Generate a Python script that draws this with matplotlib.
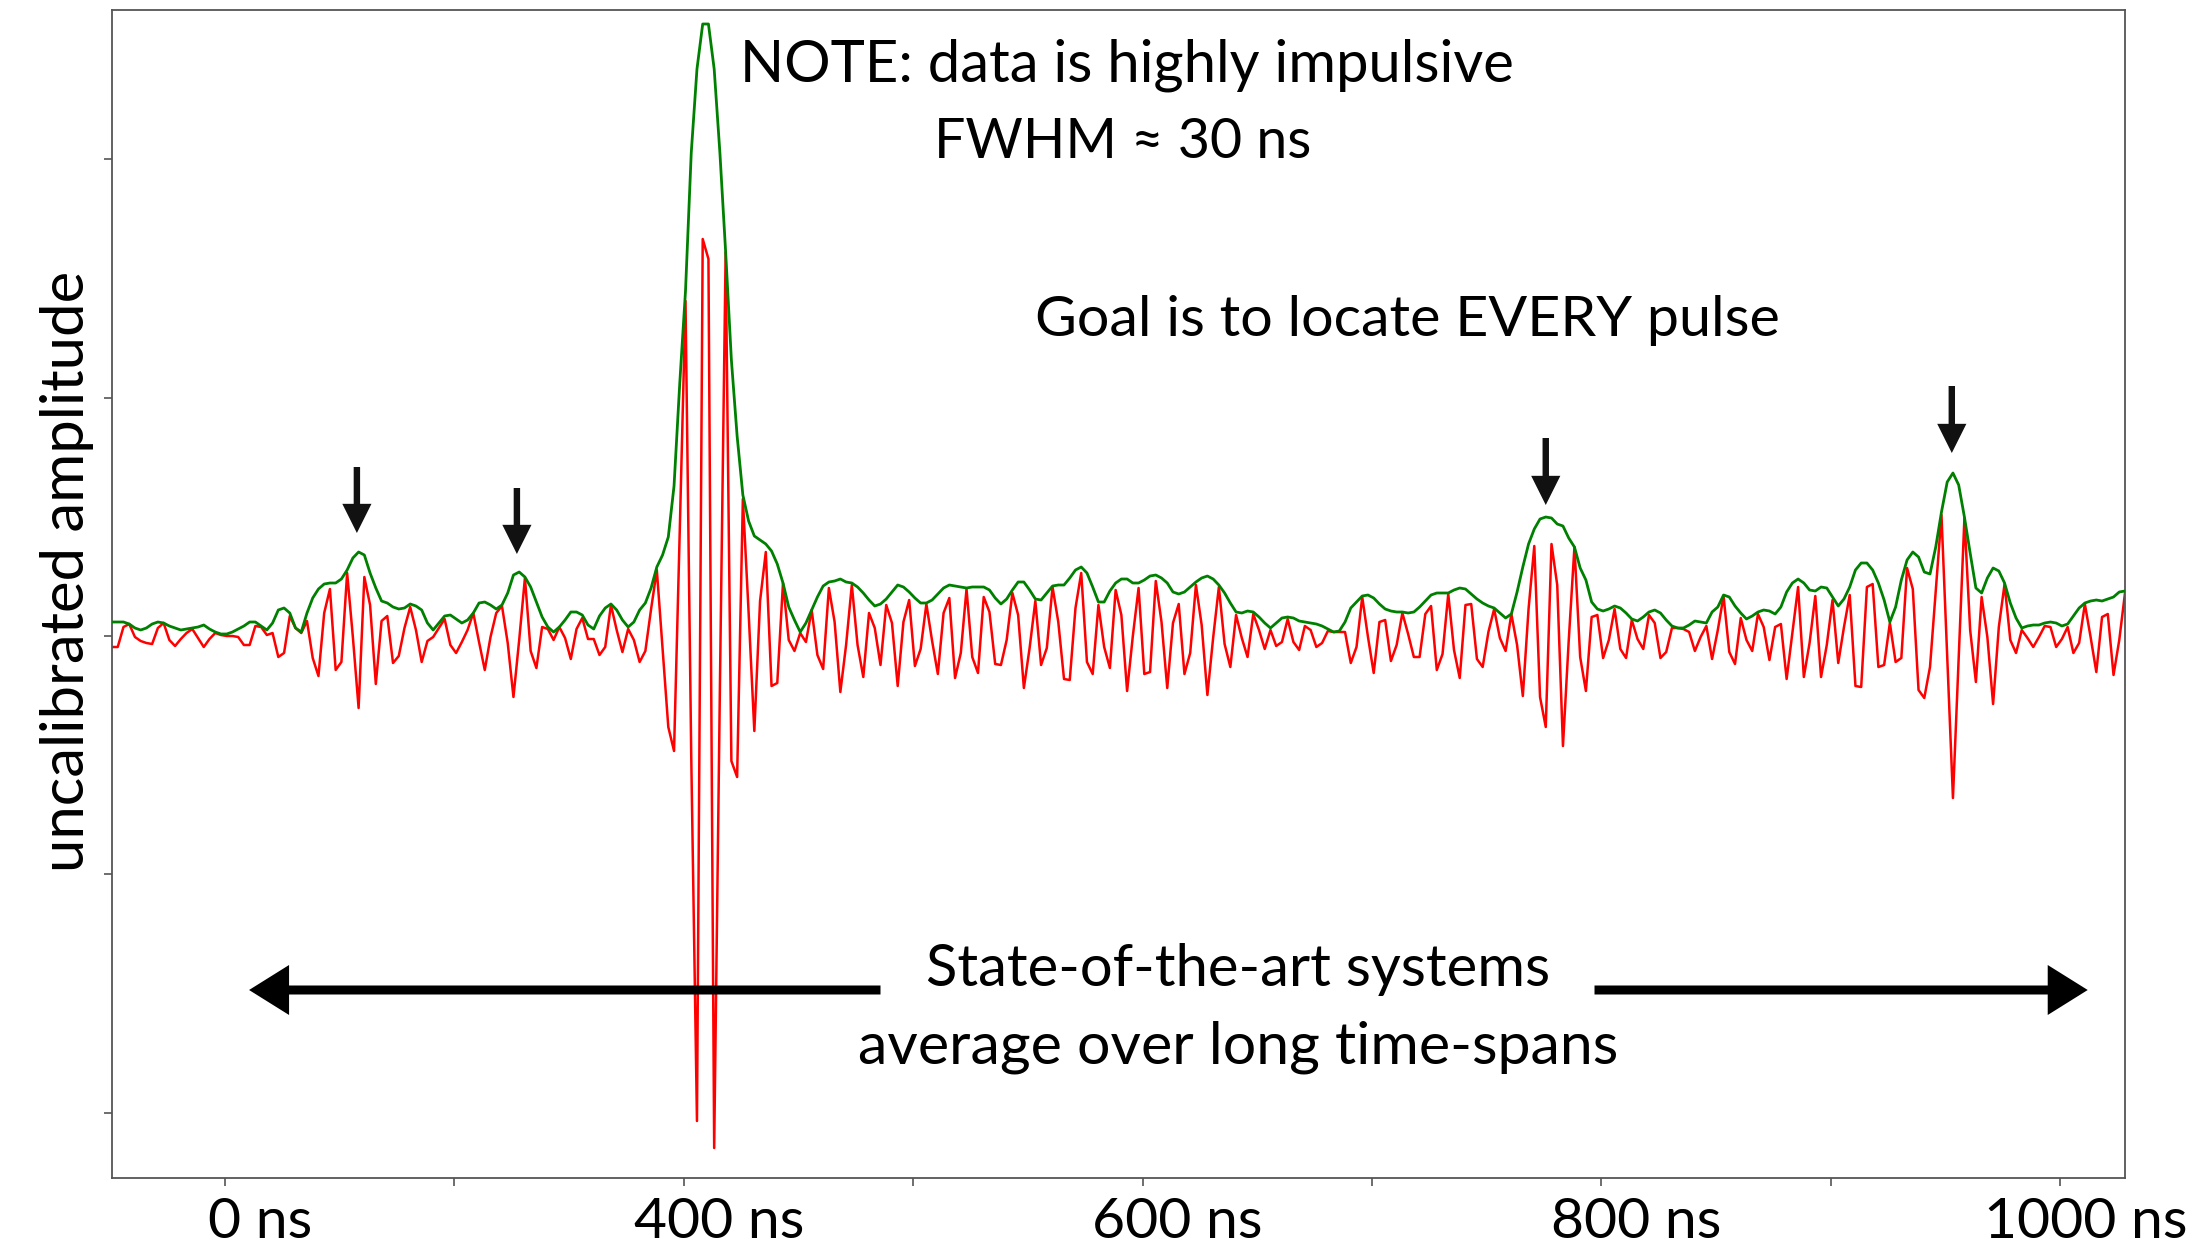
import numpy as np
import matplotlib.pyplot as plt
import matplotlib.transforms as mtransforms

# red trace (raw samples) and green trace (envelope), arbitrary counts
red = [-11, -11, 9, 12, -1, -5, -7, -8, 8, 13,
       -4, -10, -3, 3, 7, -2, -11, -3, 3, 1,
       0, 0, -1, -9, -9, 10, 9, 1, 3, -21,
       -17, 20, 8, 3, 15, -22, -40, 23, 47, -34,
       -26, 63, -1, -72, 59, 31, -48, 15, 20, -27,
       -20, 8, 29, 6, -26, -5, -1, 8, 17, -9,
       -17, -6, 6, 23, -6, -34, -1, 23, 30, -7,
       -61, -4, 58, -15, -32, 9, 7, -4, 9, -2,
       -23, 7, 18, -3, -3, -19, -11, 31, 6, -16,
       7, -4, -26, -15, 27, 66, -12, -91, -115, 106,
       335, -120, -485, 397, 377, -512, -50, 384, -125, -141,
       137, 24, -95, 35, 84, -50, -47, 53, -4, -15,
       3, -6, 26, -19, -33, 48, 14, -56, -9, 51,
       -9, -41, 23, 8, -29, 31, 13, -50, 14, 36,
       -30, -13, 32, -5, -38, 23, 38, -42, -17, 47,
       -21, -37, 39, 24, -28, -29, -4, 43, 21, -52,
       -12, 35, -29, -12, 49, 14, -43, -44, 28, 63,
       -26, -38, 31, -11, -32, 46, 21, -55, 0, 48,
       -38, -36, 55, 14, -52, 13, 32, -38, -17, 51,
       11, -59, -2, 49, -8, -31, 21, -2, -21, 22,
       6, -13, 6, -10, -6, 17, -6, -14, 10, 6,
       -11, -7, 5, 4, 4, 4, -27, -11, 39, -1,
       -37, 14, 16, -25, -9, 23, 2, -21, -21, 22,
       30, -34, -18, 42, -14, -42, 31, 32, -23, -31,
       4, 27, -2, -15, 22, -9, -60, 27, 90, -61,
       -91, 92, 51, -110, -5, 89, -21, -55, 19, 21,
       -22, -4, 27, -13, -22, 16, -3, -13, 21, 13,
       -22, -16, 8, 8, 7, 4, -15, -1, 10, -23,
       6, 40, -16, -28, 18, -4, -15, 22, 9, -24,
       9, 12, -43, 3, 49, -41, -7, 40, -41, -9,
       36, -27, 9, 41, -50, -51, 49, 52, -31, -29,
       13, -26, -22, 68, 47, -54, -62, -31, 45, 121,
       -21, -162, -22, 118, 6, -46, 39, -1, -68, 9,
       52, -4, -17, 6, -2, -11, -1, 10, 9, -11,
       -3, 9, -17, -7, 32, -1, -36, 19, 22, -39,
       -4, 43]

green = [14, 14, 14, 12, 8, 6, 8, 12, 14, 13,
         10, 8, 6, 7, 8, 9, 11, 7, 4, 2,
         2, 4, 7, 10, 14, 14, 10, 6, 13, 26,
         28, 23, 8, 4, 23, 38, 47, 52, 53, 53,
         57, 66, 78, 84, 81, 63, 48, 35, 33, 29,
         27, 28, 32, 30, 26, 13, 6, 13, 20, 21,
         17, 13, 16, 23, 33, 34, 31, 27, 31, 43,
         61, 64, 59, 49, 34, 19, 9, 4, 9, 16,
         24, 24, 21, 11, 7, 20, 28, 32, 26, 16,
         9, 14, 26, 33, 48, 69, 81, 99, 150, 253,
         345, 483, 567, 612, 612, 567, 483, 384, 276, 200,
         141, 115, 100, 96, 92, 85, 72, 53, 29, 16,
         4, 13, 26, 39, 50, 54, 55, 57, 54, 53,
         49, 43, 36, 30, 32, 37, 44, 51, 49, 44,
         38, 33, 33, 36, 42, 48, 51, 50, 49, 48,
         49, 49, 49, 46, 38, 32, 37, 46, 54, 54,
         46, 37, 36, 43, 50, 51, 51, 58, 66, 69,
         63, 49, 34, 34, 45, 53, 57, 57, 53, 53,
         56, 60, 61, 58, 53, 44, 42, 44, 49, 54,
         58, 60, 57, 51, 43, 33, 24, 23, 25, 24,
         19, 13, 8, 13, 18, 19, 18, 15, 14, 13,
         12, 10, 7, 4, 5, 14, 28, 34, 40, 41,
         38, 32, 27, 25, 24, 24, 23, 24, 29, 35,
         41, 43, 43, 43, 46, 48, 47, 42, 37, 33,
         30, 28, 23, 18, 22, 44, 69, 92, 107, 117,
         119, 118, 112, 110, 98, 89, 68, 56, 34, 27,
         25, 27, 30, 28, 23, 17, 15, 19, 24, 26,
         23, 16, 10, 8, 8, 11, 15, 14, 13, 24,
         29, 41, 39, 30, 23, 17, 20, 24, 26, 25,
         22, 29, 44, 53, 57, 53, 46, 45, 49, 48,
         39, 30, 37, 49, 66, 73, 73, 66, 53, 36,
         14, 29, 56, 76, 84, 79, 64, 62, 89, 124,
         154, 163, 151, 119, 83, 48, 43, 58, 68, 65,
         53, 33, 18, 8, 10, 11, 11, 13, 14, 13,
         10, 12, 20, 28, 33, 35, 36, 35, 37, 39,
         44, 45]

tick_pos = [19.7 + 40 * k for k in range(9)]
tick_labels = ["0 ns", "", "400 ns", "", "600 ns", "", "800 ns", "", "1000 ns"]
ytick_pos = [-477, -238, 0, 238, 477]

# pulses the arrows point at: (sample, tip, tail)
pulse_marks = [(42.7, 103, 169), (70.6, 82, 148), (250.0, 131, 198), (320.8, 183, 250)]

plt.rcParams['font.family'] = ['Lato', 'DejaVu Sans']

fig = plt.figure(figsize=(21.93, 12.45), dpi=100)
ax = fig.add_axes([112 / 2193, 1 - 1178 / 1245, 2013 / 2193, 1168 / 1245])

x = np.arange(len(red))
ax.plot(x, red, color='red', lw=1.8, zorder=2)
ax.plot(x, green, color='green', lw=2.0, zorder=3)

ax.set_xlim(0, len(red) - 1)
ax.set_ylim(-542, 626)
ax.set_xticks(tick_pos)
ax.set_xticklabels(tick_labels, fontsize=41)
ax.set_yticks(ytick_pos)
ax.set_yticklabels([])
ax.tick_params(axis='both', length=6, width=1.2, color='#555555', pad=8)
for s in ax.spines.values():
    s.set_color('#555555')
    s.set_linewidth(1.3)

# numbers sit on the tick, the " ns" hangs to the right
for lab in ax.get_xticklabels():
    dx = 0.26 if lab.get_text() == "1000 ns" else 0.35
    shift = mtransforms.ScaledTranslation(dx, 0, fig.dpi_scale_trans)
    lab.set_transform(lab.get_transform() + shift)

for xi, tip, tail in pulse_marks:
    ax.annotate("", xy=(xi, tip), xytext=(xi, tail),
                arrowprops=dict(arrowstyle="simple,head_length=1,head_width=1,tail_width=0.22",
                                color='#111111', lw=0, mutation_scale=21,
                                shrinkA=0, shrinkB=0), zorder=5)

# long double arrow (drawn as two halves around the text)
for x0, x1 in [(134, 23.9), (258.5, 344.5)]:
    ax.annotate("", xy=(x1, -354), xytext=(x0, -354),
                arrowprops=dict(arrowstyle="simple,head_length=0.8,head_width=1.0,tail_width=0.18",
                                color='black', lw=0, mutation_scale=36,
                                shrinkA=0, shrinkB=0), zorder=5)

fig.text(67 / 2193, 1 - 571 / 1245, "uncalibrated amplitude", rotation=90,
         ha='center', va='center', fontsize=43)
fig.text(1127 / 2193, 1 - 65 / 1245, "NOTE: data is highly impulsive",
         ha='center', va='center', fontsize=41.8)
fig.text(1123 / 2193, 1 - 142 / 1245, "FWHM \u2248 30 ns",
         ha='center', va='center', fontsize=40)
fig.text(1407 / 2193, 1 - 320 / 1245, "Goal is to locate EVERY pulse",
         ha='center', va='center', fontsize=41.3)
fig.text(1238 / 2193, 1 - 970 / 1245, "State-of-the-art systems",
         ha='center', va='center', fontsize=41.8)
fig.text(1238 / 2193, 1 - 1047 / 1245, "average over long time-spans",
         ha='center', va='center', fontsize=42.5)

plt.savefig("out.png")
